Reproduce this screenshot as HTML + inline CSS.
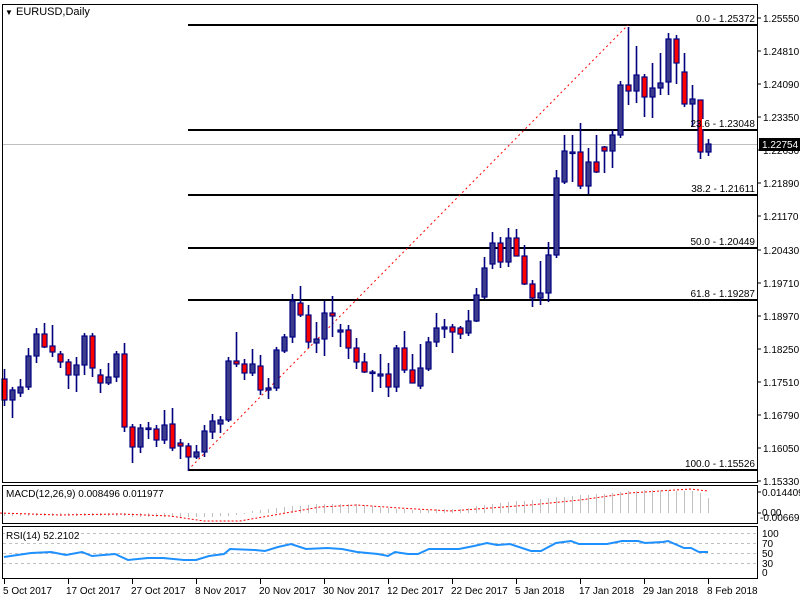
<!DOCTYPE html>
<html><head><meta charset="utf-8"><style>
html,body{margin:0;padding:0;background:#fff;}
svg{display:block;font-family:"Liberation Sans",Arial,sans-serif;}
</style></head><body>
<svg width="800" height="600" xmlns="http://www.w3.org/2000/svg" font-size="10">
<rect width="800" height="600" fill="#fff"/>
<g stroke="#000" stroke-width="2">
<line x1="188" y1="25" x2="757" y2="25"/>
<line x1="188" y1="130" x2="757" y2="130"/>
<line x1="188" y1="195" x2="757" y2="195"/>
<line x1="188" y1="248" x2="757" y2="248"/>
<line x1="188" y1="300" x2="757" y2="300"/>
<line x1="188" y1="470" x2="757" y2="470"/>
</g>
<line x1="2" y1="144.5" x2="757" y2="144.5" stroke="#c0c0c0" stroke-width="1"/>
<line x1="188" y1="470" x2="628" y2="25" stroke="#ff0000" stroke-width="1" stroke-dasharray="2,3"/>
<path fill="none" stroke="#000080" stroke-width="1.6" d="M4.5 369V406M12.5 387V418M20.5 379V397M28.5 348V390M36.5 328V363M44.5 323V348M52.5 325V357M60.5 351V368M68.5 359V389M76.5 357V392M84.5 333V375M92.5 333V377M100.5 369V393M108.5 363V385M116.5 351V382M124.5 343V432M132.5 424V463M140.5 424V453M148.5 422V439M156.5 425V447M164.5 410V444M172.5 408V451M180.5 439V459M188.5 443V471M196.5 445V459M204.5 425V457M212.5 414V439M220.5 416V433M228.5 357V422M236.5 332V367M244.5 359V380M252.5 349V376M260.5 355V395M268.5 378V399M276.5 347V391M284.5 334V353M292.5 294V343M300.5 286V317M308.5 305V348M316.5 322V353M324.5 301V356M332.5 296V337M340.5 324V347M348.5 325V359M356.5 338V369M364.5 353V373M372.5 370V392M380.5 354V388M388.5 363V397M396.5 345V392M404.5 331V373M412.5 354V383M420.5 344V389M428.5 337V371M436.5 313V347M444.5 319V338M452.5 324V353M460.5 326V339M468.5 310V336M476.5 288V322M484.5 257V299M492.5 232V269M500.5 237V268M508.5 228V267M516.5 229V256M524.5 245V285M532.5 280V307M540.5 261V305M548.5 242V302M556.5 170V258M564.5 135V184M572.5 135V182M580.5 123V189M588.5 148V194M596.5 135V173M604.5 146V173M612.5 130V168M620.5 81V138M628.5 27V105M636.5 46V103M644.5 74V117M652.5 63V118M660.5 53V95M668.5 33V95M676.5 35V84M684.5 53V107M692.5 85V127M700.5 100V159M708.5 139V156"/>
<g stroke="#000080" stroke-width="1.2" fill="#3c3c8c">
<rect x="10" y="390" width="5" height="10"/><rect x="18" y="387" width="5" height="6"/><rect x="26" y="356" width="5" height="31"/><rect x="34" y="334" width="5" height="22"/><rect x="74" y="365" width="5" height="10"/><rect x="82" y="336" width="5" height="29"/><rect x="106" y="377" width="5" height="6"/><rect x="114" y="354" width="5" height="23"/><rect x="138" y="428" width="5" height="19"/><rect x="146" y="428" width="5" height="1.5"/><rect x="162" y="425" width="5" height="15"/><rect x="194" y="452" width="5" height="5"/><rect x="202" y="431" width="5" height="21"/><rect x="210" y="421" width="5" height="11"/><rect x="218" y="420" width="5" height="4"/><rect x="226" y="361" width="5" height="59"/><rect x="250" y="364" width="5" height="9"/><rect x="266" y="388" width="5" height="2"/><rect x="274" y="350" width="5" height="38"/><rect x="282" y="337" width="5" height="14"/><rect x="290" y="301" width="5" height="36"/><rect x="314" y="339" width="5" height="4"/><rect x="322" y="313" width="5" height="26"/><rect x="338" y="330" width="5" height="2"/><rect x="370" y="372" width="5" height="1.5"/><rect x="378" y="374" width="5" height="2"/><rect x="394" y="348" width="5" height="39"/><rect x="418" y="368" width="5" height="18"/><rect x="426" y="342" width="5" height="27"/><rect x="434" y="328" width="5" height="14"/><rect x="442" y="327" width="5" height="2"/><rect x="466" y="321" width="5" height="12"/><rect x="474" y="295" width="5" height="26"/><rect x="482" y="268" width="5" height="29"/><rect x="490" y="243" width="5" height="21"/><rect x="506" y="238" width="5" height="24"/><rect x="538" y="293" width="5" height="5"/><rect x="546" y="255" width="5" height="38"/><rect x="554" y="178" width="5" height="77"/><rect x="562" y="151" width="5" height="31"/><rect x="570" y="152" width="5" height="1.5"/><rect x="586" y="162" width="5" height="24"/><rect x="610" y="135" width="5" height="16"/><rect x="618" y="85" width="5" height="50"/><rect x="634" y="75" width="5" height="16"/><rect x="650" y="88" width="5" height="9"/><rect x="658" y="83" width="5" height="5"/><rect x="666" y="39" width="5" height="43"/><rect x="690" y="99" width="5" height="5"/><rect x="706" y="144" width="5" height="8"/>
</g>
<g stroke="#000080" stroke-width="1.2" fill="#ff0000">
<rect x="2" y="379" width="5" height="21"/><rect x="42" y="334" width="5" height="13"/><rect x="50" y="346" width="5" height="6"/><rect x="58" y="354" width="5" height="8"/><rect x="66" y="362" width="5" height="13"/><rect x="90" y="336" width="5" height="32"/><rect x="98" y="375" width="5" height="8"/><rect x="122" y="354" width="5" height="73"/><rect x="130" y="427" width="5" height="20"/><rect x="154" y="429" width="5" height="11"/><rect x="170" y="424" width="5" height="24"/><rect x="178" y="443" width="5" height="3"/><rect x="186" y="446" width="5" height="11"/><rect x="234" y="361" width="5" height="3"/><rect x="242" y="364" width="5" height="9"/><rect x="258" y="366" width="5" height="24"/><rect x="298" y="303" width="5" height="12"/><rect x="306" y="315" width="5" height="27"/><rect x="330" y="313" width="5" height="3"/><rect x="346" y="330" width="5" height="18"/><rect x="354" y="348" width="5" height="14"/><rect x="362" y="362" width="5" height="10"/><rect x="386" y="374" width="5" height="13"/><rect x="402" y="348" width="5" height="22"/><rect x="410" y="370" width="5" height="13"/><rect x="450" y="327" width="5" height="5"/><rect x="458" y="328" width="5" height="6"/><rect x="498" y="243" width="5" height="19"/><rect x="514" y="238" width="5" height="18"/><rect x="522" y="256" width="5" height="28"/><rect x="530" y="284" width="5" height="14"/><rect x="578" y="152" width="5" height="34"/><rect x="594" y="162" width="5" height="10"/><rect x="602" y="147" width="5" height="4"/><rect x="626" y="85" width="5" height="6"/><rect x="642" y="77" width="5" height="20"/><rect x="674" y="39" width="5" height="24"/><rect x="682" y="72" width="5" height="32"/><rect x="698" y="100" width="5" height="52"/>
</g>
<g fill="#000" text-anchor="end">
<rect x="700" y="14" width="56" height="10" fill="#fff"/><text x="755" y="22">0.0 - 1.25372</text>
<rect x="702" y="119" width="54" height="10" fill="#fff"/><text x="755" y="127">23.6 - 1.23048</text>
<rect x="694" y="184" width="62" height="10" fill="#fff"/><text x="755" y="192">38.2 - 1.21611</text>
<rect x="694" y="237" width="62" height="10" fill="#fff"/><text x="755" y="245">50.0 - 1.20449</text>
<rect x="694" y="289" width="62" height="10" fill="#fff"/><text x="755" y="297">61.8 - 1.19287</text>
<rect x="689" y="459" width="67" height="10" fill="#fff"/><text x="755" y="467">100.0 - 1.15526</text>
</g>
<g fill="none" stroke="#000" stroke-width="1">
<rect x="2.5" y="4.5" width="755" height="478"/>
<rect x="2.5" y="485.5" width="755" height="38"/>
<rect x="2.5" y="526.5" width="755" height="52"/>
</g>
<text x="5" y="15" font-size="11"><tspan font-size="8">▼</tspan> EURUSD,Daily</text>
<path stroke="#c0c0c0" fill="none" d="M4.5 513V516M12.5 513V516M20.5 513V516M28.5 513V516M36.5 513V516M44.5 513V516M52.5 513V516M60.5 513V516M68.5 513V516M76.5 513V516M84.5 513V516M92.5 513V516M100.5 513V516M108.5 513V516M116.5 513V516M124.5 513V516M132.5 513V517M140.5 513V517M148.5 513V517M156.5 513V517M164.5 513V517M172.5 513V517M180.5 513V517M188.5 513V517M196.5 513V517M204.5 513V517M212.5 513V517M220.5 513V516M228.5 513V516M236.5 513V515M244.5 513V514M252.5 513V511M260.5 513V510M268.5 513V509M276.5 513V508M284.5 513V507M292.5 513V506M300.5 513V506M308.5 513V505M316.5 513V504M324.5 513V504M332.5 513V504M340.5 513V504M348.5 513V504M356.5 513V504M364.5 513V505M372.5 513V506M380.5 513V507M388.5 513V508M396.5 513V509M404.5 513V509M412.5 513V510M420.5 513V510M428.5 513V510M436.5 513V509M444.5 513V509M452.5 513V509M460.5 513V509M468.5 513V508M476.5 513V506M484.5 513V505M492.5 513V504M500.5 513V503M508.5 513V502M516.5 513V501M524.5 513V501M532.5 513V500M540.5 513V499M548.5 513V498M556.5 513V497M564.5 513V497M572.5 513V496M580.5 513V495M588.5 513V495M596.5 513V494M604.5 513V494M612.5 513V493M620.5 513V492M628.5 513V491M636.5 513V491M644.5 513V490M652.5 513V490M660.5 513V490M668.5 513V490M676.5 513V491M684.5 513V491M692.5 513V491M700.5 513V493M708.5 513V498"/>
<polyline fill="none" stroke="#ff0000" stroke-dasharray="2,2" points="0,513 60,515 120,514 170,516 204,521 240,521 280,514 320,507 357,505 400,508 450,511 490,508 530,505 580,500 630,493 690,489 708,491"/>
<g stroke="#c0c0c0" stroke-dasharray="3,3">
<line x1="3" y1="533.5" x2="757" y2="533.5"/><line x1="3" y1="543.5" x2="757" y2="543.5"/>
<line x1="3" y1="553.5" x2="757" y2="553.5"/><line x1="3" y1="563.5" x2="757" y2="563.5"/>
</g>
<polyline fill="none" stroke="#1e90ff" stroke-width="2" points="4,557 31,553 51,552 66,555 82,552 92,556 115,554 128,560 148,558 163,558 184,560 196,560 209,556 224,554 230,549 255,550 265,551 278,547 291,544 306,549 327,548 342,549 357,552 378,554 388,556 395,552 408,554 418,554 429,549 459,549 474,546 487,543 497,545 510,544 531,551 541,551 556,543 571,541 579,544 607,544 622,541 638,541 645,543 663,542 668,541 684,548 691,548 699,552 708,552"/>
<text x="6" y="497">MACD(12,26,9) 0.008496 0.011977</text>
<rect x="5" y="530" width="72" height="10" fill="#fff"/>
<text x="6" y="539">RSI(14) 52.2102</text>
<g stroke="#000">
<path d="M757 18H761M757 51H761M757 84H761M757 117H761M757 150H761M757 183H761M757 216H761M757 250H761M757 283H761M757 316H761M757 349H761M757 382H761M757 415H761M757 448H761M757 481H761M757 492H761M757 513H761"/>
</g>
<g fill="#000">
<text x="763" y="22">1.25550</text><text x="763" y="55">1.24810</text><text x="763" y="88">1.24090</text><text x="763" y="121">1.23350</text><text x="763" y="154">1.22630</text><text x="763" y="187">1.21890</text><text x="763" y="220">1.21170</text><text x="763" y="254">1.20430</text><text x="763" y="287">1.19710</text><text x="763" y="320">1.18970</text><text x="763" y="353">1.18250</text><text x="763" y="386">1.17510</text><text x="763" y="419">1.16790</text><text x="763" y="452">1.16050</text><text x="763" y="485">1.15330</text>
<text x="762" y="496">0.014409</text><text x="762" y="516">0.00</text><text x="760" y="521">-0.006696</text>
<text x="762" y="537">100</text><text x="762" y="547">70</text><text x="762" y="557">50</text><text x="762" y="567">30</text><text x="762" y="576">0</text>
</g>
<rect x="759" y="138" width="41" height="13" fill="#000"/>
<text x="762" y="148" fill="#fff">1.22754</text>
<path stroke="#000" d="M4.5 579V584M68.5 579V584M132.5 579V584M196.5 579V584M260.5 579V584M324.5 579V584M388.5 579V584M452.5 579V584M516.5 579V584M580.5 579V584M644.5 579V584M708.5 579V584"/>
<g fill="#000">
<text x="3" y="594">5 Oct 2017</text><text x="66" y="594">17 Oct 2017</text><text x="131" y="594">27 Oct 2017</text><text x="195" y="594">8 Nov 2017</text><text x="259" y="594">20 Nov 2017</text><text x="323" y="594">30 Nov 2017</text><text x="387" y="594">12 Dec 2017</text><text x="451" y="594">22 Dec 2017</text><text x="515" y="594">5 Jan 2018</text><text x="579" y="594">17 Jan 2018</text><text x="643" y="594">29 Jan 2018</text><text x="707" y="594">8 Feb 2018</text>
</g>
</svg>
</body></html>
